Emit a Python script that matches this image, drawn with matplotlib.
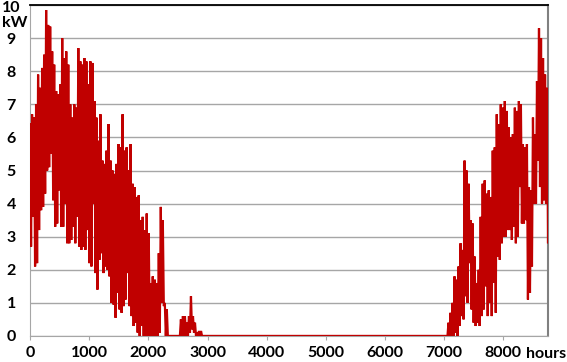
import numpy as np
import matplotlib
matplotlib.use("Agg")
import matplotlib.pyplot as plt
from matplotlib.transforms import ScaledTranslation

step = 34

# winter / spring block, starts at hour 0
left_peak = [6.4, 6.7, 6.6, 7.0, 7.9, 7.5, 8.1, 8.5, 9.85, 9.4,
             9.35, 8.6, 8.2, 7.4, 7.3, 7.6, 9.0, 8.4, 8.6, 8.2,
             7.0, 6.6, 7.0, 6.9, 8.7, 8.3, 8.2, 8.4, 8.3, 7.6,
             8.3, 8.25, 7.1, 6.6, 5.9, 6.7, 5.3, 5.2, 5.6, 6.4,
             5.3, 5.0, 4.9, 5.2, 5.8, 5.7, 6.7, 5.6, 5.7, 5.0,
             5.8, 4.6, 4.5, 4.2, 4.25, 3.5, 3.6, 3.2, 3.7, 3.1,
             1.6, 1.8, 1.7, 1.6, 2.5, 3.9, 3.5, 1.0, 0.8, 0.0,
             0.0, 0.0, 0.0, 0.0, 0.0, 0.5, 0.6, 0.6, 0.4, 0.6,
             1.2, 0.6, 0.4, 0.1, 0.15, 0.15, 0.0]
left_low = [2.7, 3.6, 2.1, 2.2, 3.2, 3.8, 3.9, 4.3, 5.0, 5.1,
            5.5, 4.1, 3.3, 3.4, 4.4, 3.3, 3.3, 4.0, 2.8, 2.8,
            2.9, 3.3, 2.8, 3.6, 2.7, 2.6, 2.7, 2.6, 3.2, 2.2,
            2.1, 4.0, 1.9, 1.4, 2.3, 2.5, 1.9, 2.1, 2.0, 1.8,
            1.0, 0.95, 0.55, 1.3, 0.8, 0.7, 0.9, 1.1, 1.9, 0.9,
            0.6, 0.3, 0.4, 0.1, 0.0, 0.3, 0.0, 0.0, 0.0, 0.0,
            0.0, 0.0, 0.0, 0.0, 0.1, 1.0, 0.9, 0.0, 0.0, 0.0,
            0.0, 0.0, 0.0, 0.0, 0.0, 0.0, 0.0, 0.0, 0.0, 0.1,
            0.2, 0.1, 0.0, 0.0, 0.0, 0.0, 0.0]

# autumn / winter block
right_start = 7039
right_peak = [0.0, 0.4, 0.7, 1.0, 1.8, 1.7, 2.1, 2.8, 2.6, 5.3,
              5.0, 4.6, 3.5, 3.4, 2.4, 1.6, 2.0, 3.6, 4.6, 4.7,
              4.3, 4.4, 4.2, 5.6, 5.7, 6.7, 6.4, 7.0, 6.9, 7.1,
              6.8, 6.3, 6.0, 6.1, 6.9, 6.8, 7.1, 7.0, 5.8, 5.7,
              5.8, 4.5, 4.4, 6.6, 6.1, 7.7, 9.3, 9.0, 8.4, 7.9,
              7.5]
right_low = [0.0, 0.0, 0.0, 0.0, 0.1, 0.0, 0.3, 0.6, 0.5, 1.2,
             1.0, 2.2, 0.8, 0.4, 0.3, 0.4, 0.3, 0.6, 0.8, 1.5,
             0.6, 1.0, 0.6, 1.6, 0.7, 2.4, 2.3, 2.8, 3.0, 3.0,
             3.2, 3.2, 2.9, 3.3, 2.8, 3.0, 4.5, 3.4, 3.4, 3.5,
             1.1, 1.3, 2.1, 4.0, 4.0, 5.3, 4.5, 4.0, 4.1, 4.0,
             2.8]

def zigzag(start, peaks, lows):
    xs, ys = [], []
    for i, (p, l) in enumerate(zip(peaks, lows)):
        h = start + i * step
        xs += [h, h + step / 2]
        ys += [p, l]
    return xs, ys

lx, ly = zigzag(0, left_peak, left_low)
rx, ry = zigzag(right_start, right_peak, right_low)
hours = lx + [lx[-1] + step, right_start - step] + rx + [8760]
kw = ly + [0.0, 0.0] + ry + [4.1]

plt.rcParams['font.family'] = ['Lato', 'DejaVu Sans']
plt.rcParams['font.weight'] = 'bold'

fig = plt.figure(figsize=(5.67, 3.62), dpi=100)
ax = fig.add_axes([0.053, 0.072, 0.914, 0.914])

ax.plot(hours, kw, color='#C00000', lw=1.6, solid_joinstyle='miter', zorder=3)

ax.set_xlim(0, 8760)
ax.set_ylim(0, 10)
ax.set_xticks(range(0, 9000, 1000))
ax.set_yticks(range(0, 11))
ax.grid(axis='y', color='#A6A6A6', lw=1)
ax.set_axisbelow(True)

# y labels sit centred in the left margin
ax.tick_params(axis='y', length=0, pad=13.5, labelsize=11.5)
ax.tick_params(axis='x', length=3, color='#A6A6A6', pad=4, labelsize=11.5)
for lab in ax.get_xticklabels() + ax.get_yticklabels():
    lab.set_fontweight('bold')
for lab in ax.get_yticklabels():
    lab.set_horizontalalignment('center')
top_lab = ax.get_yticklabels()[-1]
top_lab.set_transform(top_lab.get_transform()
                      + ScaledTranslation(0, -1.5 / 100, fig.dpi_scale_trans))

ax.spines['left'].set_color('#A6A6A6')
ax.spines['bottom'].set_color('#A6A6A6')
ax.spines['right'].set_color('#808080')
ax.spines['right'].set_linewidth(1.5)
ax.spines['top'].set_color('black')
ax.spines['top'].set_linewidth(1.3)

fig.text(15 / 567, 1 - 23 / 362, 'kW', ha='center', va='center',
         fontsize=11.5, fontweight='bold')
fig.text(566 / 567, 1 - 354 / 362, 'hours', ha='right', va='center',
         fontsize=11.5, fontweight='bold')

fig.savefig('out.png', dpi=100)
